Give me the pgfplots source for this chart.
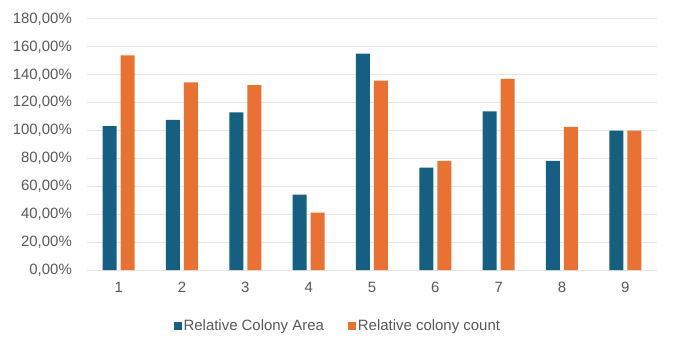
\documentclass[border=0pt]{standalone}
\usepackage{pgfplots}
\pgfplotsset{compat=1.18}
\usepackage{fontspec}
\setmainfont{Liberation Sans}
\definecolor{cblue}{HTML}{156082}
\definecolor{corange}{HTML}{E97132}
\definecolor{txt}{HTML}{595959}
\definecolor{gridc}{HTML}{E6E6E6}
\begin{document}
\begin{tikzpicture}
\path[use as bounding box] (-87bp,-82bp) rectangle (589bp,270bp);
\begin{axis}[
  at={(0,0)}, anchor=south west,
  scale only axis, width=570bp, height=251bp,
  ybar=4bp, bar width=14bp,
  xmin=0.5, xmax=9.5, ymin=0, ymax=180,
  xtick={1,...,9}, ytick={0,20,...,180},
  axis line style={draw=none},
  major tick length=0pt,
  ymajorgrids, xmajorgrids=false, grid style={color=gridc, line width=1bp},
  font=\fontsize{15}{17}\selectfont,
  tick label style={text=txt},
  /pgf/number format/assume math mode=true,
  yticklabel={\pgfmathprintnumber[fixed,fixed zerofill,precision=2,use comma]{\tick}\%},
  yticklabel style={anchor=east, inner sep=0pt, xshift=-15bp},
  xticklabel style={anchor=north, inner sep=0pt, yshift=-12bp},
  legend style={at={(0.44,-0.223)}, anchor=center, draw=none, legend columns=2,
    text=txt, /tikz/every even column/.append style={column sep=22bp}},
  legend image code/.code={\fill[#1] (0bp,-4bp) rectangle (8bp,4bp);},
]
\addplot[fill=cblue, draw=none] coordinates {(1,103.2) (2,107.7) (3,113.0) (4,54.0) (5,155.2) (6,73.4) (7,113.7) (8,78.2) (9,100.0)};
\addplot[fill=corange, draw=none] coordinates {(1,154.0) (2,134.6) (3,132.6) (4,41.2) (5,135.8) (6,78.2) (7,137.0) (8,102.6) (9,100.0)};
\legend{Relative Colony Area, Relative colony count}
\end{axis}
\end{tikzpicture}
\end{document}
